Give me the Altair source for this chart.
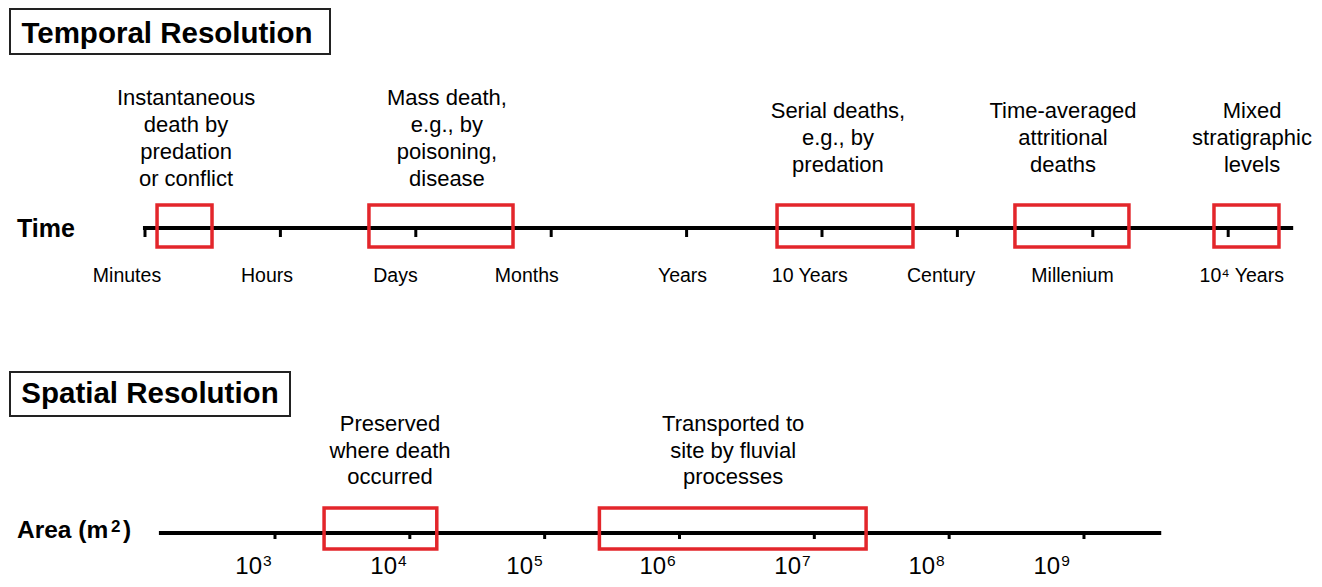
import altair as alt
import pandas as pd

FONT = "Liberation Sans"
RED = "#e3262b"

# ---------------- Temporal axis (positions in "time-unit index") ----------------
time_units = ["Minutes", "Hours", "Days", "Months", "Years",
              "10 Years", "Century", "Millenium", "10\u2074 Years"]
time_tick_pos = [0, 1, 2, 3, 4, 5, 6, 7, 8]
time_label_pos = [-0.133, 0.901, 1.85, 2.82, 3.97, 4.91, 5.88, 6.85, 8.10]
time_line = [-0.015, 8.48]
time_box_start = [0.089, 1.654, 4.668, 6.425, 7.895]
time_box_end = [0.495, 2.718, 5.672, 7.267, 8.375]
time_notes = ["Instantaneous\ndeath by\npredation\nor conflict",
              "Mass death,\ne.g., by\npoisoning,\ndisease",
              "Serial deaths,\ne.g.,  by\npredation",
              "Time-averaged\nattritional\ndeaths",
              "Mixed\nstratigraphic\nlevels"]
time_note_pos = [0.303, 2.23, 5.118, 6.78, 8.176]

# ---------------- Spatial axis (positions in log10 m^2) ----------------
area_exponents = ["3", "4", "5", "6", "7", "8", "9"]
area_tick_pos = [3, 4, 5, 6, 7, 8, 9]
area_label_pos = [2.837, 3.838, 4.847, 5.834, 6.835, 7.829, 8.757]
area_line = [2.139, 9.573]
area_box_start = [3.364, 5.406]
area_box_end = [4.200, 7.384]
area_notes = ["Preserved\nwhere death\noccurred",
              "Transported to\nsite by fluvial\nprocesses"]
area_note_pos = [3.853, 6.398]

titles = ["Temporal Resolution", "Spatial Resolution"]

W, H = 1306, 571
tscale = alt.Scale(domain=[-1.0118, 8.6337], nice=False, zero=False)
ascale = alt.Scale(domain=[1.0198, 10.706], nice=False, zero=False)

# temporal layers
t_line_df = pd.DataFrame({"x": [time_line[0]], "x2": [time_line[1]]})
t_line = alt.Chart(t_line_df).mark_rule(color="black", strokeWidth=4).encode(
    x=alt.X("x:Q", scale=tscale, axis=None), x2="x2:Q", y=alt.value(220))
t_ticks = alt.Chart(pd.DataFrame({"x": time_tick_pos})).mark_rule(
    color="black", strokeWidth=3).encode(
    x=alt.X("x:Q", scale=tscale, axis=None), y=alt.value(220), y2=alt.value(229))
t_boxes = alt.Chart(pd.DataFrame({"x": time_box_start, "x2": time_box_end})).mark_rect(
    fillOpacity=0, stroke=RED, strokeWidth=3.5).encode(
    x=alt.X("x:Q", scale=tscale, axis=None), x2="x2:Q",
    y=alt.value(197), y2=alt.value(239))
t_labels = alt.Chart(pd.DataFrame({"x": time_label_pos, "t": time_units})).mark_text(
    font=FONT, fontSize=19.5, color="black", baseline="alphabetic", align="center").encode(
    x=alt.X("x:Q", scale=tscale, axis=None), y=alt.value(274), text="t:N")

notes_df = pd.DataFrame({"x": time_note_pos, "t": time_notes,
                         "n": [s.count("\n") + 1 for s in time_notes]})
note_mark = dict(font=FONT, fontSize=22, color="black", baseline="middle",
                 align="center", lineBreak="\n", lineHeight=27)
t_notes4 = alt.Chart(notes_df).transform_filter(alt.datum.n == 4).mark_text(
    **note_mark).encode(
    x=alt.X("x:Q", scale=tscale, axis=None), y=alt.value(90), text="t:N")
t_notes3 = alt.Chart(notes_df).transform_filter(alt.datum.n == 3).mark_text(
    **note_mark).encode(
    x=alt.X("x:Q", scale=tscale, axis=None), y=alt.value(103), text="t:N")
time_layer = alt.layer(t_line, t_ticks, t_boxes, t_labels, t_notes4, t_notes3)

# spatial layers
a_line_df = pd.DataFrame({"x": [area_line[0]], "x2": [area_line[1]]})
a_line = alt.Chart(a_line_df).mark_rule(color="black", strokeWidth=4).encode(
    x=alt.X("x:Q", scale=ascale, axis=None), x2="x2:Q", y=alt.value(525))
a_ticks = alt.Chart(pd.DataFrame({"x": area_tick_pos})).mark_rule(
    color="black", strokeWidth=3).encode(
    x=alt.X("x:Q", scale=ascale, axis=None), y=alt.value(525), y2=alt.value(531))
a_boxes = alt.Chart(pd.DataFrame({"x": area_box_start, "x2": area_box_end})).mark_rect(
    fillOpacity=0, stroke=RED, strokeWidth=3.5).encode(
    x=alt.X("x:Q", scale=ascale, axis=None), x2="x2:Q",
    y=alt.value(500), y2=alt.value(541))
lab_df = pd.DataFrame({"x": area_label_pos, "e": area_exponents,
                       "b": ["10"] * len(area_exponents)})
a_base = alt.Chart(lab_df).mark_text(
    font=FONT, fontSize=24, color="black", baseline="alphabetic", align="right", dx=9).encode(
    x=alt.X("x:Q", scale=ascale, axis=None), y=alt.value(566), text="b:N")
a_exp = alt.Chart(lab_df).mark_text(
    font=FONT, fontSize=15.5, color="black", baseline="alphabetic", align="left", dx=10).encode(
    x=alt.X("x:Q", scale=ascale, axis=None), y=alt.value(558), text="e:N")
a_notes = alt.Chart(pd.DataFrame({"x": area_note_pos, "t": area_notes})).mark_text(
    font=FONT, fontSize=22, color="black", baseline="middle", align="center",
    lineBreak="\n", lineHeight=26.5).encode(
    x=alt.X("x:Q", scale=ascale, axis=None), y=alt.value(416), text="t:N")
area_layer = alt.layer(a_line, a_ticks, a_boxes, a_base, a_exp, a_notes)

# title boxes and axis names
one = pd.DataFrame({"k": [0]})
box1 = alt.Chart(one).mark_rect(fill="white", stroke="#222", strokeWidth=2).encode(
    x=alt.value(2), x2=alt.value(322), y=alt.value(1), y2=alt.value(46))
title1 = alt.Chart(one).mark_text(font=FONT, fontSize=29.5, fontWeight="bold",
                                  color="black", baseline="alphabetic").encode(
    x=alt.value(159), y=alt.value(35), text=alt.value(titles[0]))
box2 = alt.Chart(one).mark_rect(fill="white", stroke="#222", strokeWidth=2).encode(
    x=alt.value(2), x2=alt.value(282), y=alt.value(364), y2=alt.value(408))
title2 = alt.Chart(one).mark_text(font=FONT, fontSize=29.5, fontWeight="bold",
                                  color="black", baseline="alphabetic").encode(
    x=alt.value(142), y=alt.value(395), text=alt.value(titles[1]))
time_name = alt.Chart(one).mark_text(font=FONT, fontSize=25, fontWeight="bold",
                                     color="black", baseline="alphabetic", align="left").encode(
    x=alt.value(9), y=alt.value(229), text=alt.value("Time"))
name_mark = dict(font=FONT, fontWeight="bold", color="black",
                 baseline="alphabetic", align="left")
area_name1 = alt.Chart(one).mark_text(fontSize=24.5, **name_mark).encode(
    x=alt.value(9), y=alt.value(530), text=alt.value("Area (m"))
area_name2 = alt.Chart(one).mark_text(fontSize=17, **name_mark).encode(
    x=alt.value(103), y=alt.value(524), text=alt.value("2"))
area_name3 = alt.Chart(one).mark_text(fontSize=24.5, **name_mark).encode(
    x=alt.value(115), y=alt.value(530), text=alt.value(")"))

chart = alt.layer(time_layer, area_layer, box1, title1, box2, title2,
                  time_name, area_name1, area_name2, area_name3
                  ).resolve_scale(x="independent").properties(
    width=W, height=H, padding=0, autosize=alt.AutoSizeParams(type="none"),
    background="white"
).configure_view(stroke=None)

chart.save("out.html", embed_options={"renderer": "svg", "actions": False})
